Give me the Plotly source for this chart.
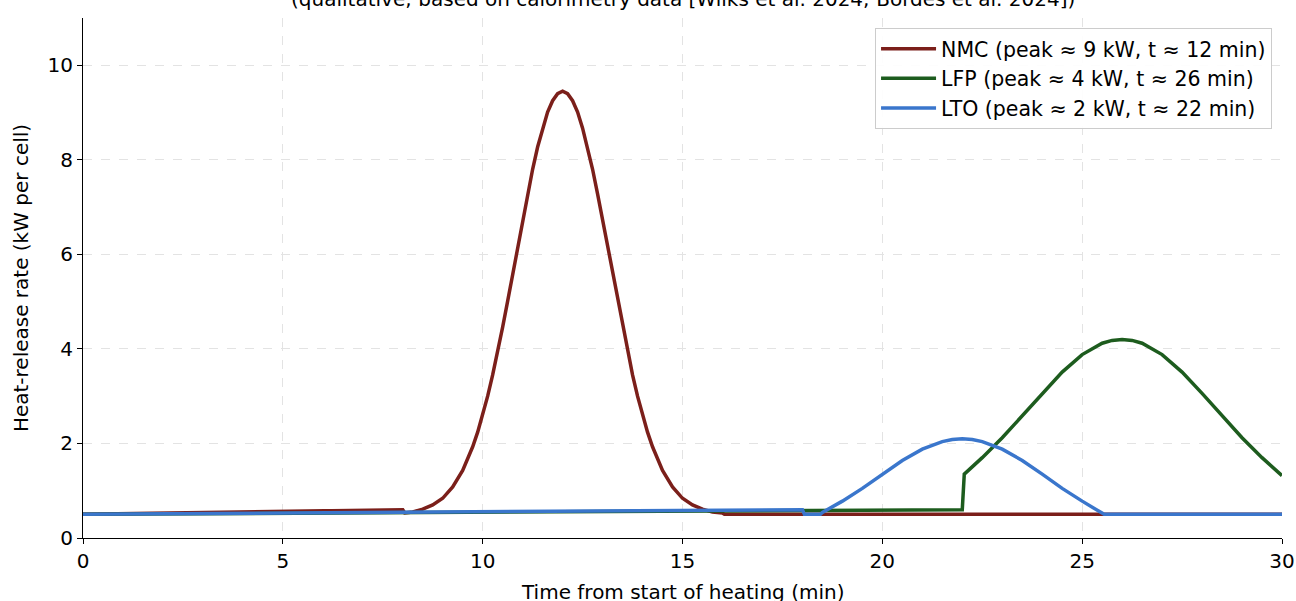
import plotly.graph_objects as go

# ---- data ----
nmc_t = [0, 8, 8.05, 8.25, 8.5, 8.75, 9, 9.25, 9.5, 9.625, 9.75, 9.875, 10, 10.125, 10.25, 10.375,
         10.5, 10.625, 10.75, 10.875, 11, 11.125, 11.25,
         11.375, 11.5, 11.625, 11.75, 11.875, 12, 12.125, 12.25, 12.375, 12.5, 12.625, 12.75, 12.875,
         13, 13.125, 13.25, 13.375, 13.5, 13.625, 13.75, 13.875, 14, 14.125, 14.25, 14.375, 14.5, 14.75,
         15, 15.25, 15.5, 15.75, 16, 16.05, 30]
nmc_v = [0.50, 0.60, 0.53, 0.55, 0.61, 0.70, 0.84, 1.08, 1.43, 1.66, 1.93, 2.24, 2.60, 3.00, 3.45, 3.94,
         4.46, 5.01, 5.58, 6.16, 6.73, 7.28, 7.80,
         8.27, 8.67, 9.01, 9.25, 9.40, 9.45, 9.40, 9.25, 9.01, 8.67, 8.27, 7.80, 7.28,
         6.73, 6.16, 5.58, 5.01, 4.46, 3.94, 3.45, 3.00, 2.60, 2.24, 1.93, 1.66, 1.43, 1.08,
         0.84, 0.70, 0.61, 0.55, 0.53, 0.50, 0.50]

lfp_t = [0, 22, 22.05, 22.5, 23, 23.5, 24, 24.5, 25, 25.5, 25.75, 26, 26.25, 26.5, 27, 27.5, 28, 28.5,
         29, 29.5, 30]
lfp_v = [0.50, 0.60, 1.35, 1.70, 2.12, 2.59, 3.06, 3.51, 3.88, 4.12, 4.18, 4.20, 4.18, 4.12, 3.88, 3.51,
         3.06, 2.59, 2.12, 1.70, 1.32]

lto_t = [0, 18, 18.05, 18.45, 18.5, 19, 19.5, 20, 20.5, 21, 21.5, 21.75, 22, 22.25, 22.5, 23, 23.5, 24,
         24.5, 25, 25.5, 25.55, 30]
lto_v = [0.50, 0.60, 0.50, 0.50, 0.54, 0.78, 1.05, 1.35, 1.64, 1.88, 2.04, 2.085, 2.10, 2.085, 2.04, 1.88,
         1.64, 1.35, 1.05, 0.78, 0.54, 0.50, 0.50]

names = ["NMC (peak ≈ 9 kW, t ≈ 12 min)",
         "LFP (peak ≈ 4 kW, t ≈ 26 min)",
         "LTO (peak ≈ 2 kW, t ≈ 22 min)"]
colors = ["#7b1f1a", "#1d5c1e", "#3a76cc"]

x_ticks = [0, 5, 10, 15, 20, 25, 30]
y_ticks = [0, 2, 4, 6, 8, 10]

subtitle = "(qualitative; based on calorimetry data [Wilks et al. 2024; Bordes et al. 2024])"
x_title = "Time from start of heating (min)"
y_title = "Heat-release rate (kW per cell)"

FONT = "DejaVu Sans"
FS = 20

fig = go.Figure()
for i, (t, v) in enumerate([(nmc_t, nmc_v), (lfp_t, lfp_v), (lto_t, lto_v)]):
    fig.add_trace(go.Scatter(x=t, y=v, mode="lines", name=names[i], legendgroup=str(i),
                             line=dict(color=colors[i], width=3.5, shape="linear")))

axis_common = dict(
    showline=True, linecolor="black", linewidth=1.2,
    ticks="outside", ticklen=5, tickwidth=1.2, tickcolor="black",
    showgrid=True, gridcolor="#e3e3e3", griddash="dash", gridwidth=1,
    zeroline=False, automargin=False,
    tickfont=dict(family=FONT, size=FS, color="black"),
)

fig.update_layout(
    width=1296, height=601,
    paper_bgcolor="white", plot_bgcolor="white",
    margin=dict(l=83, r=14, t=18, b=63),
    font=dict(family=FONT, size=FS, color="black"),
    xaxis=dict(range=[0, 30], tickvals=x_ticks, **axis_common),
    yaxis=dict(range=[0, 11], tickvals=y_ticks,
               title=dict(text=y_title, standoff=13, font=dict(family=FONT, size=FS)),
               **axis_common),
    legend=dict(x=0.9917, y=0.981, xanchor="right", yanchor="top",
                bgcolor="rgba(255,255,255,0.9)", bordercolor="#cccccc", borderwidth=1,
                font=dict(family=FONT, size=20.5), tracegroupgap=0,
                itemwidth=55),
    showlegend=True,
)

fig.add_annotation(text=subtitle, xref="paper", yref="paper", x=0.5, y=1.0095,
                   xanchor="center", yanchor="bottom", showarrow=False,
                   font=dict(family=FONT, size=FS, color="black"))
fig.add_annotation(text=x_title, xref="paper", yref="paper", x=0.5, y=-0.1038,
                   xanchor="center", yanchor="middle", showarrow=False,
                   font=dict(family=FONT, size=FS, color="black"))

fig.write_html("out.html", config={"displayModeBar": False},
               post_script="document.body.style.margin='0';document.body.style.padding='0';")
